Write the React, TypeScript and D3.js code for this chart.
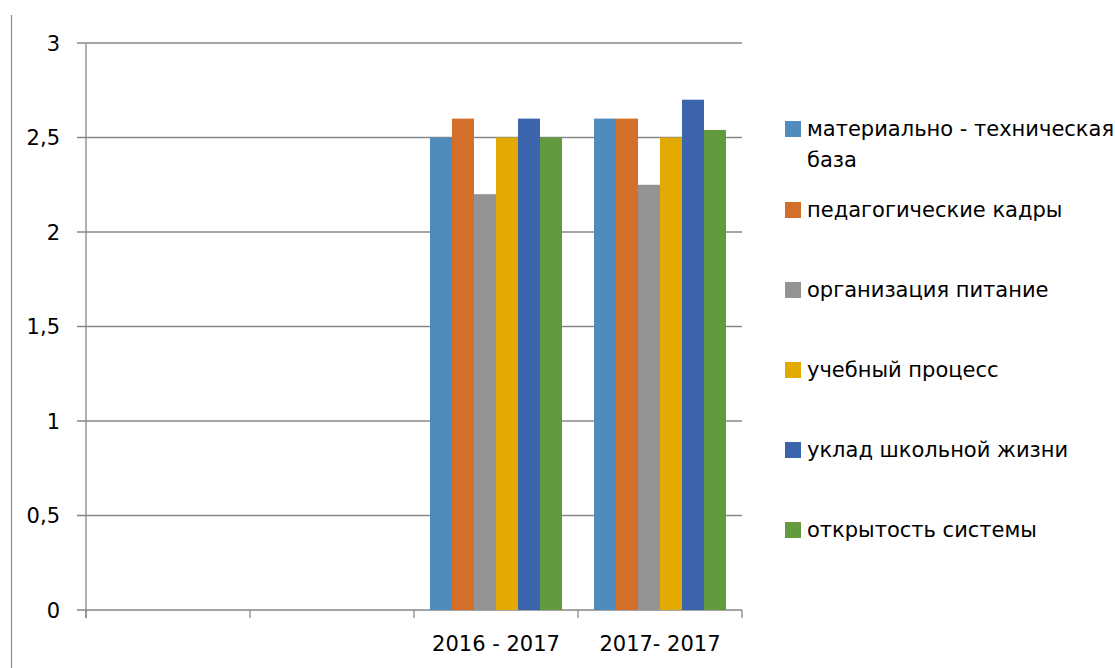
import React from "react";
import * as d3 from "d3";

const categories: string[] = ["", "", "2016 - 2017", "2017- 2017"];
const seriesNames: string[] = [
  "материально - техническая база",
  "педагогические кадры",
  "организация питание",
  "учебный процесс",
  "уклад школьной жизни",
  "открытость системы",
];
const legendLines: string[][] = [
  ["материально - техническая", "база"],
  ["педагогические кадры"],
  ["организация питание"],
  ["учебный процесс"],
  ["уклад школьной жизни"],
  ["открытость системы"],
];
const seriesColors: string[] = ["#4F8BBD", "#D46F2A", "#939393", "#E2AA00", "#3C64AC", "#629A3E"];
// values per series, per category (null = no bar)
const matTech: (number | null)[] = [null, null, 2.5, 2.6];
const pedKadry: (number | null)[] = [null, null, 2.6, 2.6];
const orgPit: (number | null)[] = [null, null, 2.2, 2.25];
const uchProc: (number | null)[] = [null, null, 2.5, 2.5];
const uklad: (number | null)[] = [null, null, 2.6, 2.7];
const otkr: (number | null)[] = [null, null, 2.5, 2.54];
const seriesValues = [matTech, pedKadry, orgPit, uchProc, uklad, otkr];
const yTicks: number[] = [0, 0.5, 1, 1.5, 2, 2.5, 3];

const W = 1115;
const H = 668;
const left = 86;
const right = 742;
const top = 43;
const bottom = 610;
const FONT = "'DejaVu Sans', sans-serif";

export default function App() {
  const x = d3.scaleBand<string>().domain(categories.map((_, i) => String(i))).range([left, right]).padding(0);
  const inner = d3
    .scaleBand<string>()
    .domain(seriesNames)
    .range([0, x.bandwidth()])
    .paddingInner(0)
    .paddingOuter(16 / 22);
  const y = d3.scaleLinear().domain([0, 3]).range([bottom, top]);
  const fmt = (v: number) => String(v).replace(".", ",");
  const boundaries = d3.range(categories.length + 1).map((i) => left + i * x.step());

  return (
    <svg width={W} height={H} style={{ position: "absolute", left: 0, top: 0, background: "#fff" }}>
      <line x1={11.5} x2={11.5} y1={15} y2={H} stroke="#8c8c8c" strokeWidth={1.2} />
      {yTicks.map((t) => (
        <g key={t}>
          <line x1={77} x2={right} y1={y(t)} y2={y(t)} stroke="#878787" strokeWidth={t === 0 ? 1.3 : 1.6} />
          <text x={60} y={y(t)} dy="0.36em" textAnchor="end" fontFamily={FONT} fontSize={21} fill="#000">
            {fmt(t)}
          </text>
        </g>
      ))}
      <line x1={left} x2={left} y1={top} y2={bottom + 8} stroke="#878787" strokeWidth={1.3} />
      {boundaries.map((b, i) => (
        <line key={i} x1={b} x2={b} y1={bottom} y2={bottom + 8} stroke="#878787" strokeWidth={1.3} />
      ))}
      {seriesValues.map((vals, si) =>
        vals.map((v, ci) =>
          v == null ? null : (
            <rect
              key={`${si}-${ci}`}
              x={(x(String(ci)) as number) + (inner(seriesNames[si]) as number)}
              y={y(v)}
              width={inner.bandwidth()}
              height={y(0) - y(v)}
              fill={seriesColors[si]}
            />
          )
        )
      )}
      {categories.map((c, i) => (
        <text
          key={i}
          x={(x(String(i)) as number) + x.bandwidth() / 2}
          y={651}
          textAnchor="middle"
          fontFamily={FONT}
          fontSize={21}
          fill="#000"
        >
          {c}
        </text>
      ))}
      {legendLines.map((lines, i) => {
        const sy = i === 0 ? 121 : 202 + (i - 1) * 80;
        return (
          <g key={i}>
            <rect x={785} y={sy} width={16} height={16} fill={seriesColors[i]} />
            {lines.map((ln, j) => (
              <text key={j} x={807} y={sy + 15 + j * 31} fontFamily={FONT} fontSize={21} fill="#000">
                {ln}
              </text>
            ))}
          </g>
        );
      })}
    </svg>
  );
}
